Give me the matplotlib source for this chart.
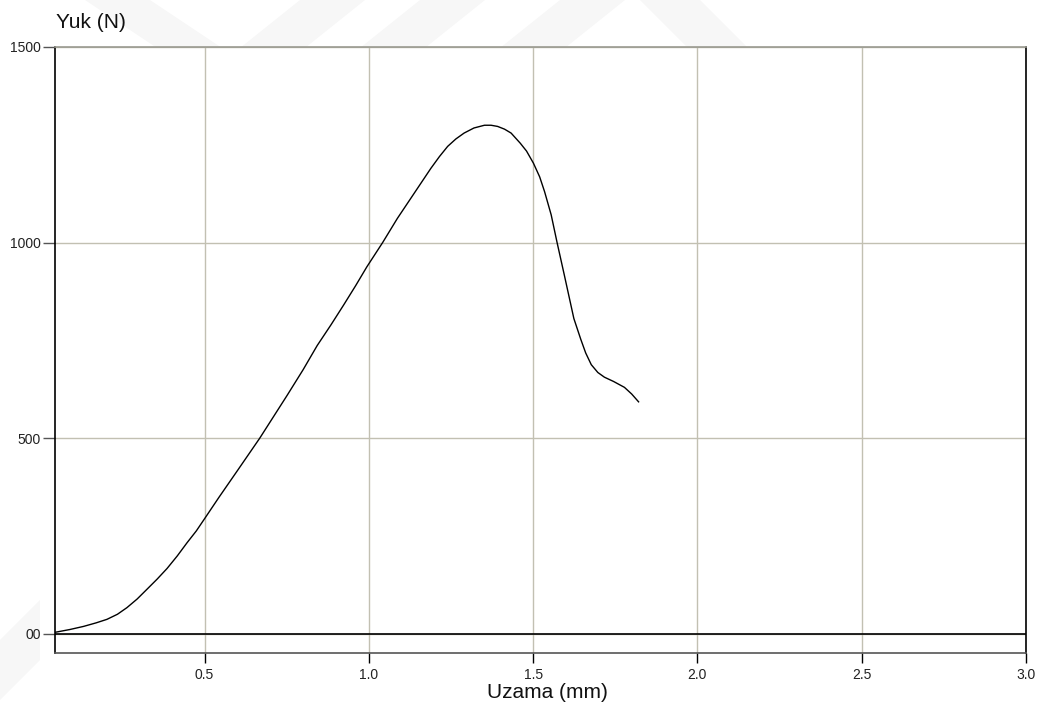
import matplotlib.pyplot as plt
from matplotlib.patches import Polygon

# values (Uzama in mm, Yuk in N)
uzama = [0.046, 0.09, 0.132, 0.170, 0.203, 0.235, 0.264, 0.295, 0.325, 0.356, 0.386,
         0.417, 0.447, 0.475, 0.50, 0.544, 0.60, 0.668, 0.751, 0.80, 0.843, 0.885,
         0.923, 0.960, 0.994, 1.042, 1.087, 1.138, 1.189, 1.215, 1.240, 1.265,
         1.290, 1.320, 1.352, 1.372, 1.392, 1.413, 1.433, 1.461, 1.480, 1.501,
         1.520, 1.535, 1.555, 1.573, 1.595, 1.624, 1.645, 1.660, 1.677, 1.697,
         1.717, 1.745, 1.778, 1.800, 1.821]
yuk = [4, 11, 19, 28, 37, 50, 67, 89, 114, 140, 167,
       199, 233, 263, 294, 349, 417, 500, 609, 675, 737, 790,
       840, 890, 938, 1000, 1062, 1126, 1190, 1220, 1246, 1265,
       1280, 1293, 1300, 1300, 1297, 1290, 1280, 1254, 1234, 1203,
       1168, 1130, 1071, 1000, 917, 806, 753, 718, 688, 668,
       656, 645, 630, 613, 593]

x_ticks = [0.5, 1.0, 1.5, 2.0, 2.5, 3.0]
x_labels = ["0.5", "1.0", "1.5", "2.0", "2.5", "3.0"]
y_ticks = [0, 500, 1000, 1500]
y_labels = ["00", "500", "1000", "1500"]

plt.rcParams['font.family'] = ['Liberation Sans', 'DejaVu Sans']

W, H = 1043, 715
fig = plt.figure(figsize=(W / 100, H / 100), dpi=100)

# faint watermark bands behind the plot area (pixel coords)
bands = [
    [(85, 0), (150, 0), (240, 60), (175, 60)],
    [(300, 0), (365, 0), (290, 60), (225, 60)],
    [(420, 0), (485, 0), (410, 60), (345, 60)],
    [(560, 0), (625, 0), (550, 60), (485, 60)],
    [(640, 0), (700, 0), (760, 60), (700, 60)],
    [(0, 640), (40, 600), (40, 660), (0, 700)],
]
for b in bands:
    pts = [(px / W, 1 - py / H) for px, py in b]
    fig.patches.append(Polygon(pts, closed=True, transform=fig.transFigure,
                               facecolor='#f7f7f7', edgecolor='none', zorder=0))

ax = fig.add_axes([55 / W, 1 - 653 / H, (1026 - 55) / W, (653 - 47) / H])
ax.set_facecolor('white')
ax.set_zorder(1)

ax.plot(uzama, yuk, color='black', linewidth=1.0, zorder=3)
ax.axhline(0, color='black', linewidth=1.2, zorder=2)

ax.set_xlim(0.045, 3.0)
ax.set_ylim(-49, 1500)

ax.set_xticks(x_ticks)
ax.set_xticklabels(x_labels)
ax.set_yticks(y_ticks)
ax.set_yticklabels(y_labels)
ax.grid(True, color='#c2c0b2', linewidth=1.0, zorder=1)
ax.tick_params(axis='x', length=7, width=1, color='black', labelsize=10, pad=4, labelcolor='#222222')
ax.tick_params(axis='y', length=9, width=1, color='#555555', labelsize=10, pad=1, labelcolor='#222222')

ax.spines['left'].set_color('black')
ax.spines['right'].set_color('black')
ax.spines['bottom'].set_color('#555555')
ax.spines['top'].set_color('#9a9a90')
for s in ax.spines.values():
    s.set_linewidth(1.2)

fig.text(56 / W, 1 - 22 / H, "Yuk (N)", fontsize=15, ha='left', va='center', color='#111111')
fig.text(547 / W, 1 - 692 / H, "Uzama (mm)", fontsize=15, ha='center', va='center', color='#111111')

fig.savefig("out.png", dpi=100, facecolor='white')
